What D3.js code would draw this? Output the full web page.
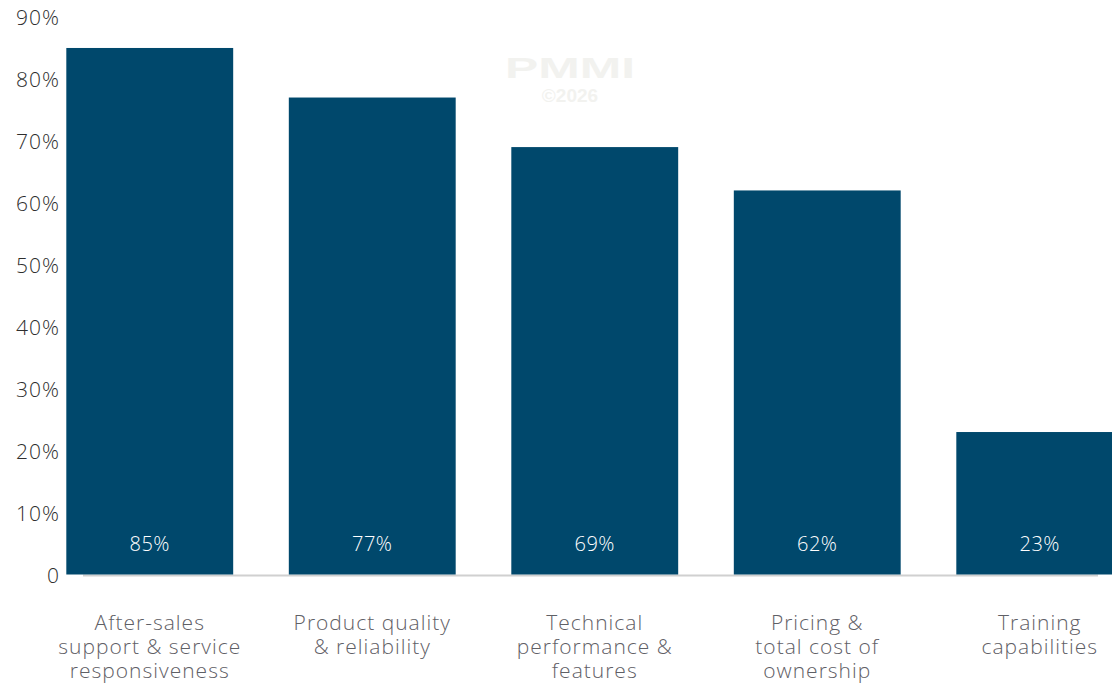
<!DOCTYPE html>
<html>
<head>
<meta charset="utf-8">
<script src="https://cdn.jsdelivr.net/npm/d3@7"></script>
<style>
  html, body { margin: 0; padding: 0; background: #fff; }
  svg { display: block; }
  text { font-family: "Open Sans", Lato, sans-serif; font-weight: 300; }
</style>
</head>
<body>
<svg id="chart" width="1112" height="684"></svg>
<script>
// Share of respondents rating each factor as important
const categories = [
  ["After-sales", "support & service", "responsiveness"],
  ["Product quality", "& reliability"],
  ["Technical", "performance &", "features"],
  ["Pricing &", "total cost of", "ownership"],
  ["Training", "capabilities"]
];
const values = [85, 77, 69, 62, 23];
const yTicks = [0, 10, 20, 30, 40, 50, 60, 70, 80, 90];

const svg = d3.select("#chart");

const keys = categories.map(c => c.join(" "));

const x = d3.scaleBand()
  .domain(keys)
  .range([38.5, 1151])
  .paddingInner(0.25)
  .paddingOuter(0.125);

const y = d3.scaleLinear()
  .domain([0, 90])
  .range([574.5, 17]);

// Watermark
const wm = svg.append("g").attr("fill", "#f2f2ef").attr("text-anchor", "middle");
wm.append("text").attr("x", 570).attr("y", 78).attr("font-size", 30)
  .attr("textLength", 130).attr("lengthAdjust", "spacingAndGlyphs")
  .style("font-family", "'Liberation Sans', Arial, sans-serif").style("font-weight", 700)
  .text("PMMI");
wm.append("text").attr("x", 570).attr("y", 102).attr("font-size", 19)
  .style("font-family", "'Liberation Sans', Arial, sans-serif").style("font-weight", 700)
  .text("©2026");

// Baseline
svg.append("line")
  .attr("x1", 83).attr("x2", 1098)
  .attr("y1", y(0) + 1).attr("y2", y(0) + 1)
  .attr("stroke", "#d0d0d0").attr("stroke-width", 2);

// Bars
svg.append("g").selectAll("rect")
  .data(values)
  .join("rect")
  .attr("x", (d, i) => x(keys[i]))
  .attr("width", x.bandwidth())
  .attr("y", d => y(d))
  .attr("height", d => y(0) - y(d))
  .attr("fill", "#00486c");

// Value labels inside the bars
svg.append("g").selectAll("text")
  .data(values)
  .join("text")
  .attr("x", (d, i) => x(keys[i]) + x.bandwidth() / 2)
  .attr("y", 551)
  .attr("text-anchor", "middle")
  .attr("font-size", 20)
  .attr("letter-spacing", 0.5)
  .attr("fill", "#ffffff")
  .text(d => d + "%");

// Y axis
const yAxis = d3.axisLeft(y)
  .tickValues(yTicks)
  .tickSize(0)
  .tickPadding(0)
  .tickFormat(d => d === 0 ? "0" : d + "%");

const ya = svg.append("g")
  .attr("transform", "translate(60,0)")
  .call(yAxis);
ya.select(".domain").remove();
ya.selectAll("text")
  .attr("font-size", 21)
  .attr("letter-spacing", 1)
  .attr("fill", "#2e2e2e")
  .attr("dy", "0.36em")
  .style("font-family", "'Open Sans', sans-serif")
  .style("font-weight", 300);

// Category labels
const xa = svg.append("g");
categories.forEach((lines, i) => {
  const t = xa.append("text")
    .attr("text-anchor", "middle")
    .attr("font-size", 21)
    .attr("letter-spacing", 1)
    .attr("fill", "#5f6066");
  lines.forEach((ln, j) => {
    t.append("tspan")
      .attr("x", x(keys[i]) + x.bandwidth() / 2)
      .attr("y", 630 + j * 24)
      .text(ln);
  });
});
</script>
</body>
</html>
